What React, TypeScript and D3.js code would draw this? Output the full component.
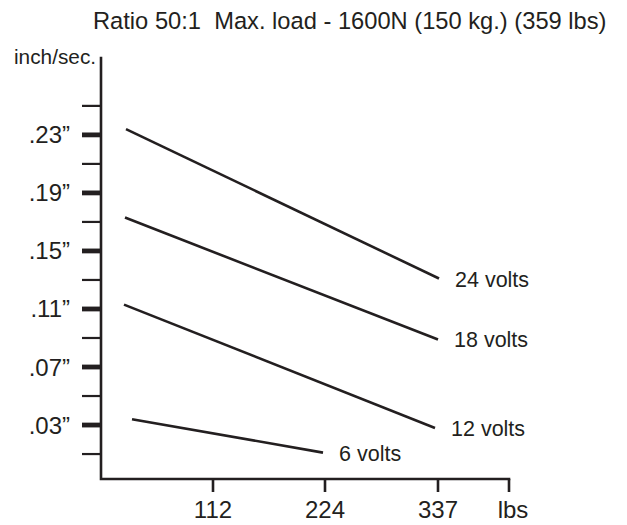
import React from "react";
import * as d3 from "d3";

const title = "Ratio 50:1  Max. load - 1600N (150 kg.) (359 lbs)";
const yUnit = "inch/sec.";
const xUnit = "lbs";

const majorYTicks = [0.03, 0.07, 0.11, 0.15, 0.19, 0.23];
const majorYLabels = [".03\u201D", ".07\u201D", ".11\u201D", ".15\u201D", ".19\u201D", ".23\u201D"];
const minorYTicks = [0.01, 0.05, 0.09, 0.13, 0.17, 0.21, 0.25];
const xTicks = [112, 224, 337];
const xTickLabels = ["112", "224", "337"];

const seriesNames = ["24 volts", "18 volts", "12 volts", "6 volts"];
const seriesLoads = [
  [25, 338],
  [24, 337],
  [23, 334],
  [31, 222],
];
const seriesSpeeds = [
  [0.234, 0.131],
  [0.173, 0.089],
  [0.113, 0.028],
  [0.034, 0.011],
];

const W = 627;
const H = 525;
const INK = "#231f20";
const FONT = "'Liberation Sans', Arial, Helvetica, sans-serif";

export default function App() {
  const x = d3.scaleLinear().domain([0, 408]).range([101, 509]);
  const y = d3.scaleLinear().domain([-0.0072, 0.283]).range([479, 58]);
  const line = d3
    .line<[number, number]>()
    .x((d) => x(d[0]))
    .y((d) => y(d[1]));

  const [x0, x1] = x.range();
  const [yb, yt] = y.range();

  return (
    <svg
      width={W}
      height={H}
      viewBox={`0 0 ${W} ${H}`}
      style={{ position: "absolute", left: 0, top: 0, background: "#fff" }}
      fontFamily={FONT}
    >
      <rect x={0} y={0} width={W} height={H} fill="#fff" />
      <text x={93} y={29} fontSize={23.7} fill={INK} style={{ whiteSpace: "pre" }}>
        {title}
      </text>
      <text x={14} y={64} fontSize={20.8} fill={INK}>
        {yUnit}
      </text>

      {/* axes */}
      <path
        d={`M${x0},${yt} V${yb} H${x1}`}
        fill="none"
        stroke={INK}
        strokeWidth={2.6}
        strokeLinecap="square"
      />

      {minorYTicks.map((v) => (
        <line key={"mn" + v} x1={82} x2={x0} y1={y(v)} y2={y(v)} stroke={INK} strokeWidth={2.2} />
      ))}
      {majorYTicks.map((v, i) => (
        <g key={"mj" + v}>
          <line x1={82} x2={x0} y1={y(v)} y2={y(v)} stroke={INK} strokeWidth={4.8} />
          <text x={70} y={y(v) + 8.5} fontSize={24} textAnchor="end" fill={INK}>
            {majorYLabels[i]}
          </text>
        </g>
      ))}

      {xTicks.map((v, i) => (
        <g key={"xt" + v}>
          <line x1={x(v)} x2={x(v)} y1={yb} y2={yb + 13} stroke={INK} strokeWidth={2.6} />
          <text x={x(v)} y={518} fontSize={24} textAnchor="middle" fill={INK}>
            {xTickLabels[i]}
          </text>
        </g>
      ))}
      <line x1={x1} x2={x1} y1={yb} y2={yb + 13} stroke={INK} strokeWidth={2.6} />
      <text x={x1 + 4} y={518} fontSize={24} textAnchor="middle" fill={INK}>
        {xUnit}
      </text>

      {seriesNames.map((name, i) => {
        const pts: [number, number][] = seriesLoads[i].map((l, j) => [l, seriesSpeeds[i][j]]);
        const end = pts[pts.length - 1];
        return (
          <g key={name}>
            <path d={line(pts) || ""} fill="none" stroke={INK} strokeWidth={2.6} />
            <text x={x(end[0]) + 16} y={y(end[1]) + 8} fontSize={21.5} fill={INK}>
              {name}
            </text>
          </g>
        );
      })}
    </svg>
  );
}
